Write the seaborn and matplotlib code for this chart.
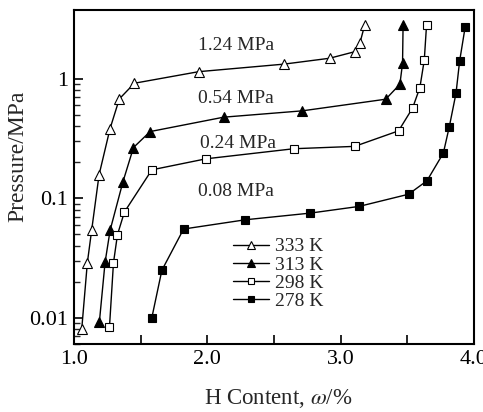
import numpy as np
import pandas as pd
import matplotlib
matplotlib.use("Agg")
import matplotlib.pyplot as plt
from matplotlib.ticker import FixedLocator, NullFormatter, FixedFormatter
import seaborn as sns

# Hydrogen absorption isotherms: H content (wt%) vs pressure (MPa)
h_333 = [1.058, 1.100, 1.133, 1.188, 1.270, 1.340, 1.453, 1.935, 2.574, 2.917, 3.105, 3.145, 3.180]
p_333 = [0.0080, 0.0287, 0.0545, 0.157, 0.382, 0.680, 0.920, 1.15, 1.33, 1.49, 1.69, 2.01, 2.83]

h_313 = [1.190, 1.233, 1.271, 1.366, 1.446, 1.571, 2.123, 2.712, 3.338, 3.444, 3.464, 3.468]
p_313 = [0.0091, 0.029, 0.054, 0.136, 0.266, 0.362, 0.478, 0.540, 0.676, 0.902, 1.35, 2.83]

h_298 = [1.266, 1.296, 1.326, 1.378, 1.584, 1.990, 2.649, 3.105, 3.434, 3.539, 3.594, 3.627, 3.644]
p_298 = [0.0083, 0.0287, 0.0495, 0.0766, 0.173, 0.214, 0.260, 0.272, 0.367, 0.569, 0.846, 1.44, 2.83]

h_278 = [1.584, 1.659, 1.822, 2.286, 2.770, 3.138, 3.509, 3.647, 3.770, 3.815, 3.865, 3.892, 3.934]
p_278 = [0.0100, 0.0249, 0.0552, 0.066, 0.075, 0.0854, 0.108, 0.140, 0.239, 0.399, 0.759, 1.41, 2.74]

series_labels = ["333 K", "313 K", "298 K", "278 K"]

plateau_labels = ["1.24 MPa", "0.54 MPa", "0.24 MPa", "0.08 MPa"]
plateau_x = [1.93, 1.93, 1.945, 1.93]
plateau_y = [1.89, 0.68, 0.286, 0.113]

x_ticks = [1.0, 1.5, 2.0, 2.5, 3.0, 3.5, 4.0]
x_ticklabels = ["1.0", "", "2.0", "", "3.0", "", "4.0"]
y_ticks = [0.01, 0.1, 1]
y_ticklabels = ["0.01", "0.1", "1"]

sns.set_style("ticks")
plt.rcParams["font.family"] = ["Liberation Serif", "DejaVu Serif"]
plt.rcParams["mathtext.fontset"] = "stix"

fig = plt.figure(figsize=(4.83, 4.12), dpi=100)
ax = fig.add_axes([0.1532, 0.165, 0.8282, 0.8107])

data = pd.concat([
    pd.DataFrame({"h": h_333, "p": p_333, "T": series_labels[0]}),
    pd.DataFrame({"h": h_313, "p": p_313, "T": series_labels[1]}),
    pd.DataFrame({"h": h_298, "p": p_298, "T": series_labels[2]}),
    pd.DataFrame({"h": h_278, "p": p_278, "T": series_labels[3]}),
], ignore_index=True)

styles = {
    "333 K": dict(marker="^", mfc="white", ms=7.0),
    "313 K": dict(marker="^", mfc="black", ms=7.0),
    "298 K": dict(marker="s", mfc="white", ms=5.3),
    "278 K": dict(marker="s", mfc="black", ms=5.3),
}

for lab in series_labels:
    sub = data[data["T"] == lab]
    st = styles[lab]
    sns.lineplot(data=sub, x="h", y="p", ax=ax, estimator=None, sort=False,
                 color="black", lw=1.0, marker=st["marker"], markersize=st["ms"],
                 markerfacecolor=st["mfc"], markeredgecolor="black",
                 markeredgewidth=0.8, label=lab)

ax.set_yscale("log")
ax.set_xlim(1.0, 4.0)
ax.set_ylim(0.006, 3.78)

ax.xaxis.set_major_locator(FixedLocator(x_ticks))
ax.xaxis.set_major_formatter(FixedFormatter(x_ticklabels))
ax.xaxis.set_minor_locator(FixedLocator([]))
ax.yaxis.set_major_locator(FixedLocator(y_ticks))
ax.yaxis.set_major_formatter(FixedFormatter(y_ticklabels))
minor_y = [m * 10.0 ** e for e in (-3, -2, -1) for m in range(2, 10)]
minor_y = [v for v in minor_y if 0.006 <= v < 1]
ax.yaxis.set_minor_locator(FixedLocator(minor_y))
ax.yaxis.set_minor_formatter(NullFormatter())

ax.tick_params(axis="both", which="major", direction="in", length=6.5, width=1.2,
               labelsize=16, colors="black")
ax.tick_params(axis="x", which="major", pad=4)
ax.tick_params(axis="y", which="major", pad=4)
ax.tick_params(axis="y", which="minor", direction="in", length=4, width=1.0)
ax.tick_params(axis="x", which="both", top=False)
ax.tick_params(axis="y", which="both", right=False)

for sp in ax.spines.values():
    sp.set_visible(True)
    sp.set_linewidth(1.5)
    sp.set_color("black")

ax.set_xlabel(r"H Content, $\omega$/%", fontsize=16.5)
ax.set_ylabel("Pressure/MPa", fontsize=17)
ax.xaxis.set_label_coords(0.511, -0.128)
ax.yaxis.set_label_coords(-0.113, 0.563)

for txt, tx, ty in zip(plateau_labels, plateau_x, plateau_y):
    ax.text(tx, ty, txt, fontsize=14, ha="left", va="center")

leg = ax.legend(loc="upper left", bbox_to_anchor=(0.3975, 0.318), frameon=False,
                fontsize=14, handlelength=1.85, handletextpad=0.3,
                labelspacing=0.03, borderpad=0, borderaxespad=0, markerscale=0.75)

fig.savefig("out.png", dpi=100)
